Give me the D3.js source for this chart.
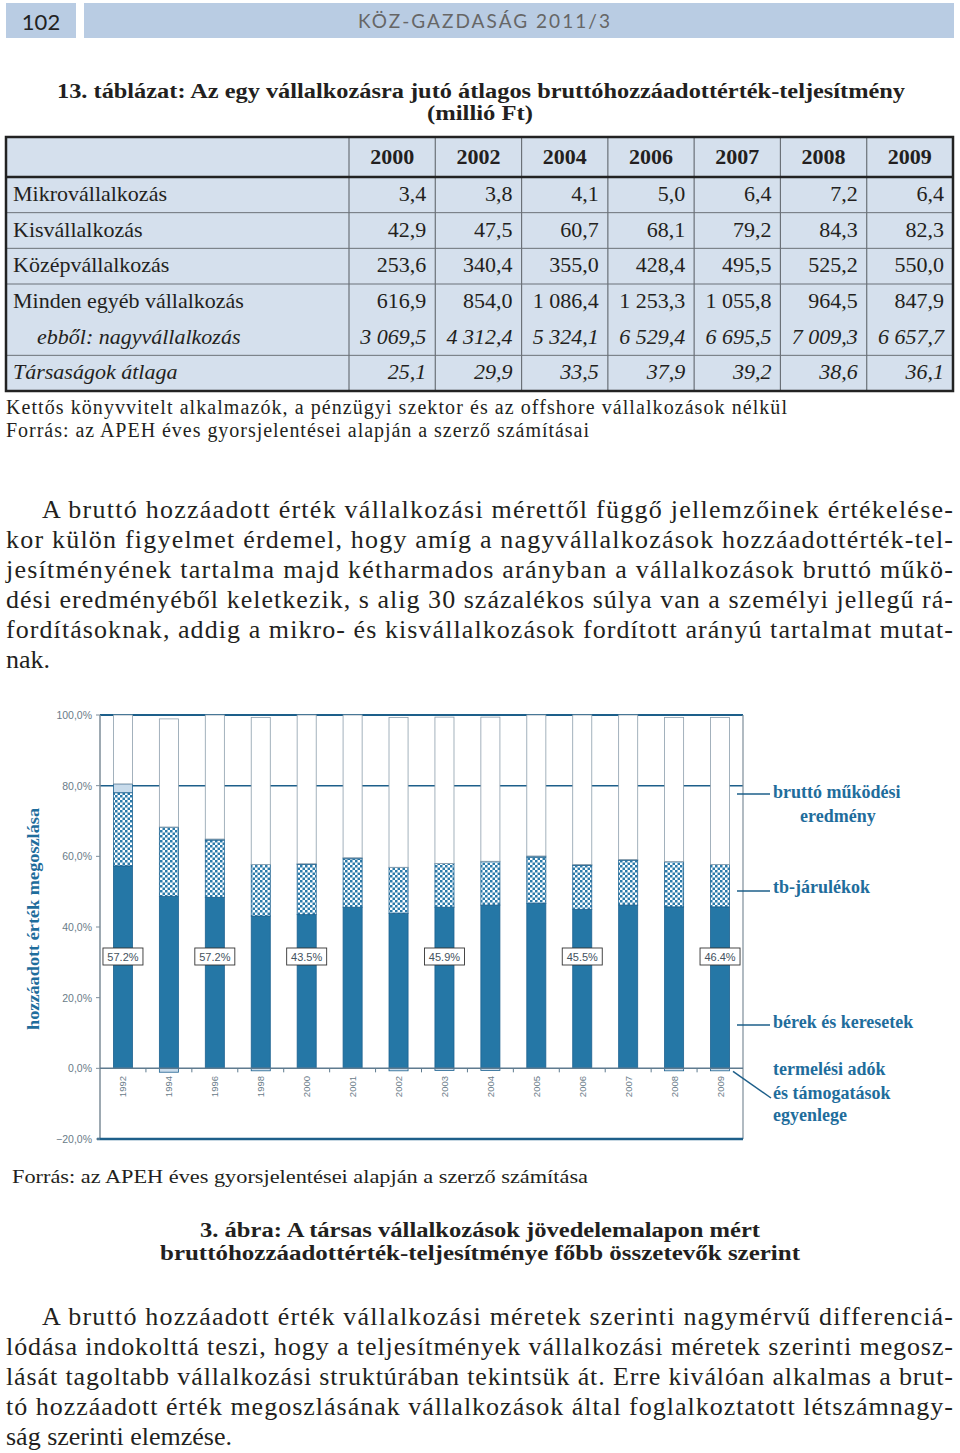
<!DOCTYPE html>
<html><head><meta charset="utf-8">
<script src="https://cdn.jsdelivr.net/npm/d3@7"></script>
<style>body{margin:0;background:#fff}svg{display:block}</style>
</head><body>
<script>
// ---------- DATA ----------
const tableYears = ["2000","2002","2004","2006","2007","2008","2009"];
const rowLabels = ["Mikrovállalkozás","Kisvállalkozás","Középvállalkozás","Minden egyéb vállalkozás","ebből: nagyvállalkozás","Társaságok átlaga"];
const mikro = [3.4,3.8,4.1,5.0,6.4,7.2,6.4];
const kis = [42.9,47.5,60.7,68.1,79.2,84.3,82.3];
const kozep = [253.6,340.4,355.0,428.4,495.5,525.2,550.0];
const egyeb = [616.9,854.0,1086.4,1253.3,1055.8,964.5,847.9];
const nagy = [3069.5,4312.4,5324.1,6529.4,6695.5,7009.3,6657.7];
const atlag = [25.1,29.9,33.5,37.9,39.2,38.6,36.1];

const years = ["1992","1994","1996","1998","2000","2001","2002","2003","2004","2005","2006","2007","2008","2009"];
const berek = [57.3,48.7,48.4,43.1,43.5,45.6,43.8,45.6,46.2,46.7,45.0,46.2,45.7,45.7];
const tbJarulek = [20.7,19.6,16.2,14.6,14.2,13.7,13.1,12.4,12.4,13.1,12.4,12.7,12.8,12.0];
const termAdok = [2.5,-1.1,0.3,-0.7,0.2,0.3,-0.7,-0.6,-0.6,0.3,0.3,0.2,-0.7,-0.7];
const bruttoEredmeny = [19.5,30.6,35.1,41.6,42.1,40.4,42.4,41.4,40.8,39.9,42.3,40.9,40.8,41.6];
const labelYears = ["1992","1996","2000","2003","2006","2009"];
const labelValues = ["57.2%","57.2%","43.5%","45.9%","45.5%","46.4%"];
const yTicks = [-20,0,20,40,60,80,100];
const gridTicks = [80,100];
const seriesKeys = ["berek","tb","adok","bme"];
const legendLines = [
  {key:"bme", lines:["bruttó működési","eredmény"]},
  {key:"tb", lines:["tb-járulékok"]},
  {key:"berek", lines:["bérek és keresetek"]},
  {key:"adok", lines:["termelési adók","és támogatások","egyenlege"]}
];

const para1 = [
 "A bruttó hozzáadott érték vállalkozási mérettől függő jellemzőinek értékelése-",
 "kor külön figyelmet érdemel, hogy amíg a nagyvállalkozások hozzáadottérték-tel-",
 "jesítményének tartalma majd kétharmados arányban a vállalkozások bruttó műkö-",
 "dési eredményéből keletkezik, s alig 30 százalékos súlya van a személyi jellegű rá-",
 "fordításoknak, addig a mikro- és kisvállalkozások fordított arányú tartalmat mutat-",
 "nak."];
const para2 = [
 "A bruttó hozzáadott érték vállalkozási méretek szerinti nagymérvű differenciá-",
 "lódása indokolttá teszi, hogy a teljesítmények vállalkozási méretek szerinti megosz-",
 "lását tagoltabb vállalkozási struktúrában tekintsük át. Erre kiválóan alkalmas a brut-",
 "tó hozzáadott érték megoszlásának vállalkozások által foglalkoztatott létszámnagy-",
 "ság szerinti elemzése."];

// ---------- SETUP ----------
const W = 960, H = 1453;
const serif = "'Liberation Serif','Times New Roman',serif";
const sans = "'Liberation Sans',Arial,sans-serif";
const ink = "#231f20";
const blue = "#1f6d9c";
const svg = d3.select("body").append("svg").attr("width",W).attr("height",H);
svg.append("rect").attr("width",W).attr("height",H).attr("fill","#fff");

const hu = d3.formatLocale({decimal:",", thousands:"\u00a0", grouping:[3], currency:["",""]});
const fmtNum = hu.format(",.1f");
const fmtPct = v => hu.format(".1f")(v) + "%";

function txt(g, s, x, y, opt) {
  const t = g.append("text").attr("x",x).attr("y",y).text(s)
    .attr("font-family", opt.family || serif).attr("font-size", opt.size || 20)
    .attr("fill", opt.fill || ink);
  if (opt.weight) t.attr("font-weight", opt.weight);
  if (opt.style) t.attr("font-style", opt.style);
  if (opt.anchor) t.attr("text-anchor", opt.anchor);
  if (opt.len) t.attr("textLength", opt.len).attr("lengthAdjust", opt.adjust || "spacingAndGlyphs");
  return t;
}

// ---------- HEADER ----------
svg.append("rect").attr("x",6).attr("y",3).attr("width",70).attr("height",35).attr("fill","#b9cce3");
svg.append("rect").attr("x",84).attr("y",3).attr("width",870).attr("height",35).attr("fill","#b9cce3");
txt(svg,"102",41,30,{family:"Lato,'Open Sans',sans-serif",size:22,anchor:"middle",fill:"#222"});
txt(svg,"KÖZ-GAZDASÁG 2011/3",484,28,{family:"Lato,'Open Sans',sans-serif",size:19,anchor:"middle",fill:"#666",len:252,adjust:"spacing"});

// ---------- TABLE TITLE ----------
txt(svg,"13. táblázat: Az egy vállalkozásra jutó átlagos bruttóhozzáadottérték-teljesítmény",481,98,{size:20,weight:"bold",anchor:"middle",len:848});
txt(svg,"(millió Ft)",480,120,{size:20,weight:"bold",anchor:"middle",len:106});

// ---------- TABLE ----------
const tbl = svg.append("g");
const colX = d3.scaleBand().domain(tableYears).range([349,953]);
const rowY = d3.scaleBand().domain(rowLabels).range([177,391]);
tbl.append("rect").attr("x",6).attr("y",137).attr("width",947).attr("height",254).attr("fill","#d5e0ed");
rowLabels.slice(1).forEach(r => {
  if (r === rowLabels[4]) return;
  tbl.append("line").attr("x1",6).attr("x2",953).attr("y1",rowY(r)).attr("y2",rowY(r)).attr("stroke","#6b7178").attr("stroke-width",1);
});
tableYears.forEach(yr => {
  tbl.append("line").attr("x1",colX(yr)).attr("x2",colX(yr)).attr("y1",137).attr("y2",391).attr("stroke","#6b7178").attr("stroke-width",1.2);
});
tbl.append("line").attr("x1",6).attr("x2",953).attr("y1",177).attr("y2",177).attr("stroke","#222").attr("stroke-width",2.5);
tbl.append("rect").attr("x",6).attr("y",137).attr("width",947).attr("height",254).attr("fill","none").attr("stroke","#222").attr("stroke-width",2.5);
tableYears.forEach(yr => txt(tbl,yr,colX(yr)+colX.bandwidth()/2,164,{size:22,weight:"bold",anchor:"middle"}));
const rowsData = [mikro,kis,kozep,egyeb,nagy,atlag];
rowLabels.forEach((lab,i) => {
  const by = rowY(lab) + 24;
  const ital = (i >= 4) ? "italic" : null;
  txt(tbl,lab,i===4?37:13,by,{size:22,style:ital});
  rowsData[i].forEach((v,j) => {
    txt(tbl,fmtNum(v),colX(tableYears[j])+colX.bandwidth()-9,by,{size:22,style:ital,anchor:"end"});
  });
});
txt(svg,"Kettős könyvvitelt alkalmazók, a pénzügyi szektor és az offshore vállalkozások nélkül",6,414,{size:20,len:781,adjust:"spacing"});
txt(svg,"Forrás: az APEH éves gyorsjelentései alapján a szerző számításai",6,437,{size:20,len:583,adjust:"spacing"});

// ---------- PARAGRAPHS ----------
function para(lines, y0) {
  lines.forEach((l,i) => {
    const last = i === lines.length-1;
    const x0 = i === 0 ? 42 : 6;
    txt(svg,l,x0,y0+i*30,{size:26,len:last?null:(953-x0),adjust:"spacing"});
  });
}
para(para1,518);
para(para2,1325);

// ---------- CHART ----------
const x = d3.scaleBand().domain(years).range([100,743]).paddingInner(0.585).paddingOuter(0.2925);
const y = d3.scaleLinear().domain([-20,100]).range([1139,715]);
const defs = svg.append("defs");
const pat = defs.append("pattern").attr("id","checker").attr("patternUnits","userSpaceOnUse").attr("width",5).attr("height",5);
pat.append("rect").attr("width",5).attr("height",5).attr("fill","#ffffff");
pat.append("rect").attr("width",2.5).attr("height",2.5).attr("fill","#2b7bab");
pat.append("rect").attr("x",2.5).attr("y",2.5).attr("width",2.5).attr("height",2.5).attr("fill","#2b7bab");

const chart = svg.append("g");
gridTicks.forEach(t => chart.append("line").attr("x1",100).attr("x2",743).attr("y1",y(t)).attr("y2",y(t))
  .attr("stroke","#1d5f8a").attr("stroke-width",t===100?2:1.5));

const rows = years.map((yr,i) => ({year:yr, berek:berek[i], tb:tbJarulek[i], adok:termAdok[i], bme:bruttoEredmeny[i]}));
const stack = d3.stack().keys(seriesKeys).offset(d3.stackOffsetDiverging)(rows);
const fills = {berek:"#2577a6", tb:"url(#checker)", adok:"#c8dbeb", bme:"#ffffff"};
const strokes = {berek:"#1d6290", tb:"#1d6290", adok:"#1d6290", bme:"#8c9eac"};
stack.forEach(s => {
  chart.append("g").selectAll("rect").data(s).join("rect")
    .attr("x", d => x(d.data.year))
    .attr("width", x.bandwidth())
    .attr("y", d => y(Math.max(d[0],d[1])))
    .attr("height", d => Math.abs(y(d[0]) - y(d[1])))
    .attr("fill", fills[s.key])
    .attr("stroke", strokes[s.key]).attr("stroke-width",0.8);
});

chart.append("line").attr("x1",100).attr("x2",100).attr("y1",715).attr("y2",1139).attr("stroke","#7d8d99").attr("stroke-width",1.5);
chart.append("line").attr("x1",743).attr("x2",743).attr("y1",715).attr("y2",1139).attr("stroke","#7d8d99").attr("stroke-width",1.2);
chart.append("line").attr("x1",100).attr("x2",743).attr("y1",y(0)).attr("y2",y(0)).attr("stroke","#5f7b8f").attr("stroke-width",1.5);
chart.append("line").attr("x1",97).attr("x2",743).attr("y1",y(-20)).attr("y2",y(-20)).attr("stroke","#1d5f8a").attr("stroke-width",2.5);
years.forEach((yr,i) => {
  const bx = 100 + x.step()*(i+1);
  if (i < years.length-1) chart.append("line").attr("x1",bx).attr("x2",bx).attr("y1",y(0)).attr("y2",y(0)+4).attr("stroke","#5f7b8f").attr("stroke-width",1);
});
yTicks.forEach(t => {
  chart.append("line").attr("x1",96).attr("x2",100).attr("y1",y(t)).attr("y2",y(t)).attr("stroke","#7d8d99");
  txt(chart,fmtPct(t),92,y(t)+4,{family:sans,size:10.5,anchor:"end",fill:"#6a7c89"});
});
years.forEach(yr => {
  const cx = x(yr) + x.bandwidth()/2;
  chart.append("text").attr("transform",`translate(${cx+3.5},1076) rotate(-90)`)
    .attr("text-anchor","end").attr("font-family",sans).attr("font-size",9.5).attr("fill","#6a7c89").text(yr);
});
labelYears.forEach((yr,i) => {
  const cx = x(yr) + x.bandwidth()/2;
  chart.append("rect").attr("x",cx-20).attr("y",948).attr("width",40).attr("height",17).attr("fill","#fff").attr("stroke","#333").attr("stroke-width",0.9);
  txt(chart,labelValues[i],cx,961,{family:sans,size:11,anchor:"middle",fill:"#44525e"});
});
chart.append("text").attr("transform","translate(39,919) rotate(-90)").attr("text-anchor","middle")
  .attr("font-family",serif).attr("font-weight","bold").attr("font-size",17).attr("fill",blue)
  .attr("textLength",222).attr("lengthAdjust","spacingAndGlyphs").text("hozzáadott érték megoszlása");

const legPos = {bme:{ly:794, ty:[798,822], tx:[773,800]}, tb:{ly:891, ty:[893], tx:[773]}, berek:{ly:1025, ty:[1028], tx:[773]}, adok:{ly:null, ty:[1075,1099,1121], tx:[773,773,773]}};
legendLines.forEach(L => {
  const p = legPos[L.key];
  if (p.ly !== null) chart.append("line").attr("x1",737).attr("x2",770).attr("y1",p.ly).attr("y2",p.ly).attr("stroke","#1d5f8a").attr("stroke-width",1.5);
  else chart.append("line").attr("x1",733).attr("y1",y(0)+3).attr("x2",771).attr("y2",1098).attr("stroke","#1d5f8a").attr("stroke-width",1.5);
  L.lines.forEach((s,k) => txt(chart,s,p.tx[k],p.ty[k],{size:18,weight:"bold",fill:blue}));
});

// ---------- FIGURE SOURCE + CAPTION ----------
txt(svg,"Forrás: az APEH éves gyorsjelentései alapján a szerző számítása",12,1183,{size:19,len:576});
txt(svg,"3. ábra: A társas vállalkozások jövedelemalapon mért",480,1237,{size:20,weight:"bold",anchor:"middle",len:560});
txt(svg,"bruttóhozzáadottérték-teljesítménye főbb összetevők szerint",480,1260,{size:20,weight:"bold",anchor:"middle",len:640});
</script>
</body></html>
